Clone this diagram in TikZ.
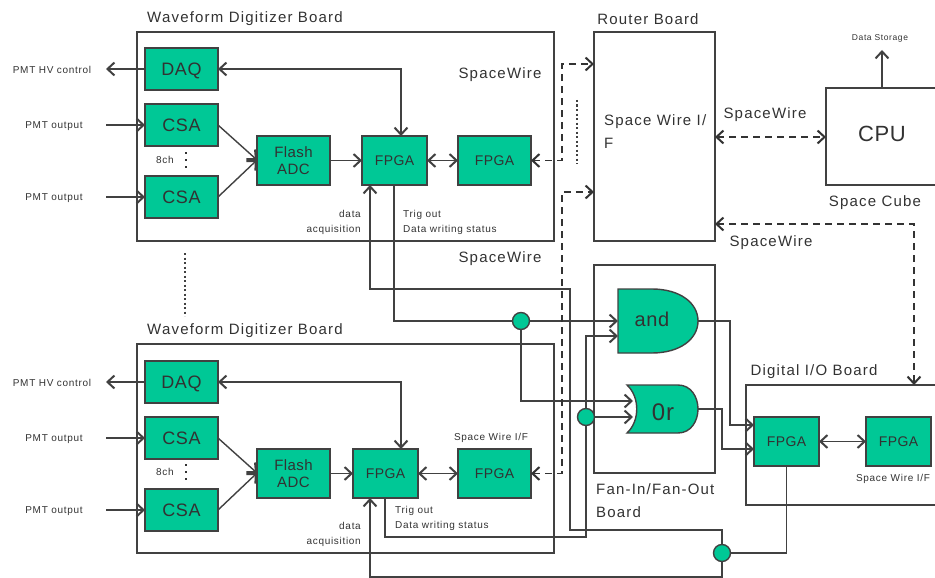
\documentclass[tikz,border=0pt]{standalone}
\usepackage{fontspec}
\setmainfont[LetterSpace=3]{Liberation Sans}
\newfontfamily\titleFont[LetterSpace=8]{Liberation Sans}
\newfontfamily\smallFont[LetterSpace=7]{Liberation Sans}
\usepackage{xcolor}
\usetikzlibrary{arrows.meta,
positioning}

\definecolor{gateGreen}{RGB}{0,200,150}
\definecolor{wireGray}{RGB}{65,65,65}
\definecolor{labelGray}{RGB}{50,50,50}

\begin{document}
\begin{tikzpicture}[
    x=1pt,
    y=-1pt,
    >={Straight Barb[length=7pt,width=13pt,line width=2pt]},
    board/.style={
        draw=wireGray,
        line width=1.4pt,
        fill=none,
        inner sep=0pt,
        outer sep=0pt,
        anchor=north west
    },
    block/.style={
        draw=wireGray,
        line width=1.4pt,
        fill=gateGreen,
        text=labelGray,
        inner sep=0pt,
        outer sep=0pt,
        align=center
    },
    daqBlock/.style={
        block,
        minimum width=73pt,
        minimum height=42pt,
        text depth=0pt,
        font=\fontsize{18}{20}\selectfont
    },
    adcBlock/.style={
        block,
        minimum width=73pt,
        minimum height=49pt,
        font=\fontsize{15}{19}\selectfont
    },
    fpgaBlock/.style={
        block,
        minimum width=65pt,
        minimum height=49pt,
        font=\fontsize{14}{15}\selectfont
    },
    ifaceBlock/.style={
        fpgaBlock,
        minimum width=73pt
    },
    junction/.style={
        circle,
        draw=wireGray,
        line width=1.4pt,
        fill=gateGreen,
        minimum size=17pt,
        inner sep=0pt,
        outer sep=0pt
    },
    gateShape/.style={
        draw=wireGray,
        line width=1.4pt,
        fill=gateGreen
    },
    flow/.style={
        ->,
        draw=wireGray,
        line width=1.4pt
    },
    wire/.style={
        draw=wireGray,
        line width=1.4pt
    },
    bidirectional/.style={
        flow,
        <->
    },
    spaceWire/.style={
        <->,
        draw=black!80,
        line width=1.4pt,
        dash pattern=on 7pt off 5pt
    },
    dotRow/.style={
        draw=black!75,
        line width=2pt,
        dash pattern=on 2pt off 2.5pt
    },
    channelDots/.style={
        draw=labelGray,
        line width=1.6pt,
        dash pattern=on 1.6pt off 5.4pt
    },
    boardLabel/.style={
        text=labelGray,
        inner sep=0pt,
        font=\titleFont\fontsize{15}{23}\selectfont,
        align=left
    },
    smallLabel/.style={
        text=labelGray,
        inner sep=0pt,
        font=\smallFont\fontsize{10}{15.5}\selectfont,
        align=left
    },
    gateLabel/.style={
        text=labelGray,
        inner sep=0pt,
        font=\fontsize{20}{22}\selectfont
    }
]

\useasboundingbox (0,0) rectangle (935,578);

%------------------------------------------------------------------------------
% Boards
%------------------------------------------------------------------------------

\node[board, minimum width=417pt, minimum height=209pt] (boardA) at (137,32) {};
\node[board, minimum width=417pt, minimum height=209pt] (boardB) at (137,344) {};
\node[board, minimum width=121pt, minimum height=209pt] (router) at (594,32) {};
\node[board, minimum width=121pt, minimum height=208pt] (fanBoard) at (594,265) {};
\node[board, minimum width=112pt, minimum height=97pt] (cpu) at (826,88) {};
\node[board, minimum width=194pt, minimum height=120pt] (digitalBoard) at (746,385) {};

\node[boardLabel, font=\fontsize{22}{24}\selectfont] (cpuLabel) at (882,134) {CPU};
\node[boardLabel] (titleA) at (245,19) {Waveform Digitizer Board};
\node[boardLabel] (titleB) at (245,331) {Waveform Digitizer Board};
\node[boardLabel] (titleRouter) at (648,19) {Router Board};
\node[boardLabel] (titleCube) at (875,203) {Space Cube};
\node[boardLabel] (titleDigital) at (814,372) {Digital I/O Board};
\node[boardLabel, anchor=north west] (titleFan) at (596,483) {Fan-In/Fan-Out\\Board};
\node[boardLabel, anchor=north west] (routerIface) at (604,114) {Space Wire I/\\F};

\node[boardLabel] (swA) at (500,75) {SpaceWire};
\node[boardLabel] (swB) at (500,259) {SpaceWire};
\node[boardLabel] (swCpu) at (765,115) {SpaceWire};
\node[boardLabel] (swDigital) at (771,243) {SpaceWire};

%------------------------------------------------------------------------------
% Upper digitizer
%------------------------------------------------------------------------------

\node[daqBlock, anchor=north west] (daqA) at (145,48) {DAQ};
\node[daqBlock, below=14pt of daqA] (csaA) {CSA};
\node[daqBlock, below=30pt of csaA] (csaAA) {CSA};
\node[adcBlock] (adcA) at (293.5,160.5) {Flash\\[-2pt]ADC};
\node[fpgaBlock, right=32pt of adcA] (fpgaA) {FPGA};
\node[ifaceBlock, right=31pt of fpgaA] (sendA) {FPGA};

\node[smallLabel] (chA) at (165,160) {8ch};

%------------------------------------------------------------------------------
% Lower digitizer
%------------------------------------------------------------------------------

\node[daqBlock, anchor=north west] (daqB) at (145,361) {DAQ};
\node[daqBlock, below=14pt of daqB] (csaB) {CSA};
\node[daqBlock, below=30pt of csaB] (csaBB) {CSA};
\node[adcBlock] (adcB) at (293.5,473.5) {Flash\\[-2pt]ADC};
\node[fpgaBlock, right=23pt of adcB] (fpgaB) {FPGA};
\node[ifaceBlock, right=40pt of fpgaB] (sendB) {FPGA};

\node[smallLabel] (chB) at (165,472) {8ch};

%------------------------------------------------------------------------------
% Logic gates and Digital I/O
%------------------------------------------------------------------------------

\path[gateShape] (618,289) -- (652,289)
    .. controls (680,289) and (698,303) .. (698,321)
    .. controls (698,339) and (680,353) .. (652,353)
    -- (618,353) -- cycle;
\path[gateShape] (627,385) -- (678,385)
    .. controls (691,385) and (698,397) .. (698,409)
    .. controls (698,421) and (691,433) .. (678,433)
    -- (627,433)
    .. controls (640,421) and (640,397) .. (627,385) -- cycle;

\node[gateLabel] (andGate) at (652,319) {and};
\node[gateLabel, font=\fontsize{24}{26}\selectfont] (orGate) at (663,412) {0r};

\node[fpgaBlock, anchor=north west] (fpgaC) at (754,417) {FPGA};
\node[fpgaBlock, right=47pt of fpgaC] (sendC) {FPGA};

\node[junction] (tapTrig) at (521,321) {};
\node[junction] (tapOr) at (586,417) {};
\node[junction] (tapAcq) at (722,553) {};

%------------------------------------------------------------------------------
% Named ends of the connectors
%------------------------------------------------------------------------------

\coordinate (pmtHvA) at (106,69);
\coordinate (pmtInA) at (106,125);
\coordinate (pmtInAA) at (106,197);
\coordinate (pmtHvB) at (106,382);
\coordinate (pmtInB) at (106,438);
\coordinate (pmtInBB) at (106,510);
\coordinate (daqTurnA) at (401,69);
\coordinate (daqTopA) at (401,136);
\coordinate (daqTurnB) at (401,382);
\coordinate (daqTopB) at (401,449);
\coordinate (acqEndA) at (370,185);
\coordinate (acqEndB) at (370,498);
\coordinate (trigEndA) at (394,185);
\coordinate (trigEndB) at (385,498);
\coordinate (andInA) at (618,321);
\coordinate (andInB) at (618,336);
\coordinate (orInA) at (633,401);
\coordinate (orInB) at (633,417);
\coordinate (andOut) at (698,321);
\coordinate (orOut) at (698,409);
\coordinate (fpgaInA) at (754,425);
\coordinate (fpgaInB) at (754,449);
\coordinate (routerInA) at (594,64);
\coordinate (routerInB) at (594,192);
\coordinate (riserA) at (562,64);
\coordinate (riserB) at (562,192);
\coordinate (routerOut) at (715,137);
\coordinate (cpuIn) at (826,137);
\coordinate (routerLow) at (715,224);
\coordinate (digitalTop) at (914,385);
\coordinate (cpuTop) at (882,88);
\coordinate (storage) at (882,50);
\coordinate (csaMerge) at (257,160);
\coordinate (csaMergeB) at (257,473);

%------------------------------------------------------------------------------
% Signal flow inside the digitizers
%------------------------------------------------------------------------------

\draw[flow] (daqA.west) -- (pmtHvA);
\draw[flow] (pmtInA) -- (csaA.west);
\draw[flow] (pmtInAA) -- (csaAA.west);
\draw[flow] (csaA.east) -- (csaMerge);
\draw[flow] (csaAA.east) -- (csaMerge);
\draw[flow] (adcA.east) -- (fpgaA.west);
\draw[bidirectional] (fpgaA.east) -- (sendA.west);
\draw[bidirectional] (daqA.east) -- (daqTurnA) -- (daqTopA);

\draw[flow] (daqB.west) -- (pmtHvB);
\draw[flow] (pmtInB) -- (csaB.west);
\draw[flow] (pmtInBB) -- (csaBB.west);
\draw[flow] (csaB.east) -- (csaMergeB);
\draw[flow] (csaBB.east) -- (csaMergeB);
\draw[flow] (adcB.east) -- (fpgaB.west);
\draw[bidirectional] (fpgaB.east) -- (sendB.west);
\draw[bidirectional] (daqB.east) -- (daqTurnB) -- (daqTopB);

%------------------------------------------------------------------------------
% Trigger and acquisition lines
%------------------------------------------------------------------------------

\draw[wire] (trigEndA) |- (tapTrig.west);
\draw[flow] (tapTrig.east) -- (andInA);
\draw[flow] (tapTrig.south) |- (orInA);
\draw[flow] (tapOr.east) -- (orInB);
\draw[flow] (tapOr.north) |- (andInB);
\draw[wire] (trigEndB) |- (586,537) -- (tapOr.south);

\draw[flow] (tapAcq.north) |- (570,530) -- (570,289) -| (acqEndA);
\draw[flow] (tapAcq.south) -- (722,577) -| (acqEndB);
\draw[wire] (tapAcq.east) -| (fpgaC.south);

\draw[flow] (andOut) -- (730,321) |- (fpgaInA);
\draw[flow] (orOut) -- (722,409) |- (fpgaInB);
\draw[bidirectional] (fpgaC.east) -- (sendC.west);
\draw[flow] (cpuTop) -- (storage);

%------------------------------------------------------------------------------
% SpaceWire links
%------------------------------------------------------------------------------

\draw[spaceWire] (sendA.east) -| (riserA) -- (routerInA);
\draw[spaceWire] (sendB.east) -| (riserB) -- (routerInB);
\draw[spaceWire] (routerOut) -- (cpuIn);
\draw[spaceWire] (routerLow) -| (digitalTop);

\coordinate (dotsTopA) at (577,100);
\coordinate (dotsEndA) at (577,164);
\coordinate (dotsTopB) at (185,253);
\coordinate (dotsEndB) at (185,316);
\draw[dotRow] (dotsTopA) -- (dotsEndA);
\draw[dotRow] (dotsTopB) -- (dotsEndB);

\coordinate (chDotsA) at (186,152);
\coordinate (chDotsAEnd) at (186,169);
\coordinate (chDotsB) at (186,464);
\coordinate (chDotsBEnd) at (186,481);
\draw[channelDots] (chDotsA) -- (chDotsAEnd);
\draw[channelDots] (chDotsB) -- (chDotsBEnd);

%------------------------------------------------------------------------------
% Small labels
%------------------------------------------------------------------------------

\node[smallLabel] (hvA) at (52,70) {PMT HV control};
\node[smallLabel] (outA) at (54,126) {PMT output};
\node[smallLabel] (outAA) at (54,198) {PMT output};
\node[smallLabel] (hvB) at (52,383) {PMT HV control};
\node[smallLabel] (outB) at (54,439) {PMT output};
\node[smallLabel] (outBB) at (54,511) {PMT output};
\node[smallLabel, font=\smallFont\fontsize{8.5}{10}\selectfont] (dataStorage) at (880,38) {Data Storage};

\node[smallLabel, align=right, anchor=north east] (acqA) at (361,210) {data\\acquisition};
\node[smallLabel, align=right, anchor=north east] (acqB) at (361,522) {data\\acquisition};
\node[smallLabel, anchor=north west] (trigA) at (403,210) {Trig out\\Data writing status};
\node[smallLabel, anchor=north west] (trigB) at (395,506) {Trig out\\Data writing status};
\node[smallLabel] (ifaceB) at (491,438) {Space Wire I/F};
\node[smallLabel] (ifaceC) at (893,479) {Space Wire I/F};

\end{tikzpicture}
\end{document}
